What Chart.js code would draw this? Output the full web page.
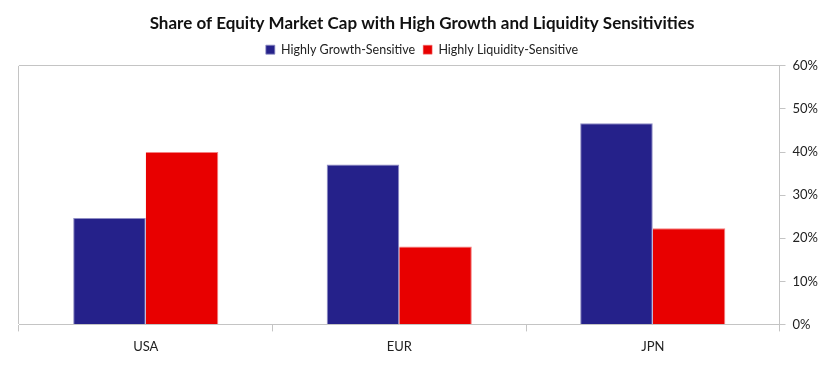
<!DOCTYPE html>
<html>
<head>
<meta charset="utf-8">
<script src="https://cdn.jsdelivr.net/npm/chart.js@4"></script>
<style>
html,body{margin:0;padding:0;background:#fff;}
#wrap{width:840px;height:366px;position:relative;}
</style>
</head>
<body>
<div id="wrap"><canvas id="c"></canvas></div>
<script>
const categories = ["USA", "EUR", "JPN"];
const growthSensitive = [24.7, 37.1, 46.7];
const liquiditySensitive = [40.0, 18.1, 22.3];
const seriesNames = ["Highly Growth-Sensitive", "Highly Liquidity-Sensitive"];
const yTicks = [0, 10, 20, 30, 40, 50, 60];

const axisGray = "#c4c4c4";
new Chart(document.getElementById("c"), {
  type: "bar",
  data: {
    labels: categories,
    datasets: [
      {label: seriesNames[0], data: growthSensitive, backgroundColor: "#25218a", borderColor: "#8f8dc4", borderWidth: {top:1,left:1,right:1,bottom:0}, categoryPercentage: 0.5725, barPercentage: 1.0},
      {label: seriesNames[1], data: liquiditySensitive, backgroundColor: "#e80000", borderColor: "#f48080", borderWidth: {top:1,left:0,right:1,bottom:0}, categoryPercentage: 0.5725, barPercentage: 1.0}
    ]
  },
  options: {
    responsive: true,
    maintainAspectRatio: false,
    animation: false,
    layout: {padding: {left: 19, right: 15, top: 11, bottom: 3}},
    plugins: {
      title: {display: true, text: "Share of Equity Market Cap with High Growth and Liquidity Sensitivities",
        font: {family: "Lato", size: 17, weight: "bold"}, color: "#111", padding: {top: 2, bottom: 2}},
      legend: {display: true, labels: {boxWidth: 9, boxHeight: 9, font: {family: "Lato", size: 12.5}, color: "#222", padding: 8}},
      tooltip: {enabled: false}
    },
    scales: {
      x: {
        grid: {display: true, offset: true, drawOnChartArea: true,
          color: (ctx) => ctx.index === 0 ? axisGray : "transparent",
          tickColor: axisGray, tickLength: 7, lineWidth: 1},
        border: {display: true, color: axisGray},
        ticks: {font: {family: "Lato", size: 13}, color: "#222", padding: 8}
      },
      y: {
        position: "right",
        min: 0, max: 60,
        afterBuildTicks: (axis) => { axis.ticks = yTicks.map(v => ({value: v})); },
        grid: {display: true, color: (ctx) => (ctx.tick && ctx.tick.value === 60) ? axisGray : "transparent",
          tickColor: axisGray, tickLength: 6},
        border: {display: true, color: axisGray},
        ticks: {font: {family: "Lato", size: 13}, color: "#222", padding: 7, callback: (v) => v + "%"}
      }
    }
  }
});
</script>
</body>
</html>
